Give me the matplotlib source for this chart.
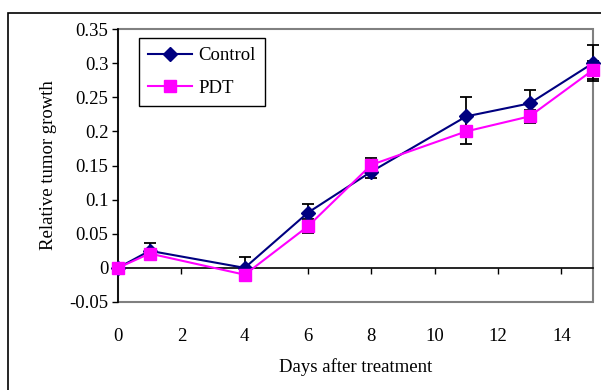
import matplotlib
matplotlib.use("Agg")
import matplotlib.pyplot as plt
from matplotlib.patches import Rectangle

days = [0, 1, 4, 6, 8, 11, 13, 15]
control = [0.0, 0.025, 0.0, 0.081, 0.141, 0.222, 0.241, 0.300]
control_err = [0.0, 0.011, 0.016, 0.013, 0.009, 0.029, 0.020, 0.026]
pdt = [0.0, 0.021, -0.010, 0.061, 0.151, 0.200, 0.222, 0.290]
pdt_err = [0.0, 0.0, 0.004, 0.010, 0.010, 0.019, 0.010, 0.013]
xticks = [0, 2, 4, 6, 8, 10, 12, 14]
yticks = [-0.05, 0, 0.05, 0.1, 0.15, 0.2, 0.25, 0.3, 0.35]
ytick_labels = ["-0.05", "0", "0.05", "0.1", "0.15", "0.2", "0.25", "0.3", "0.35"]

plt.rcParams['font.family'] = ['Liberation Serif', 'DejaVu Serif']
FS = 13.5

W, H = 601, 390
fig = plt.figure(figsize=(W / 100, H / 100), dpi=100)
ax = fig.add_axes([118 / W, 1 - 302 / H, (593 - 118) / W, (302 - 29) / H])

# outer border
fig.patches.append(Rectangle((8 / W, -0.1), 1.2, 1 - 13 / H + 0.1, transform=fig.transFigure,
                             fill=False, edgecolor='black', lw=1.2))

ekw = dict(fmt='none', ecolor='black', elinewidth=1.3, capsize=4, capthick=1.3,
           clip_on=False, zorder=2)
ax.errorbar(days, control, yerr=control_err, **ekw)
ax.errorbar(days, pdt, yerr=pdt_err, **ekw)
ax.plot(days, control, color='#000080', marker='D', markersize=7, lw=1.5,
        label='Control', clip_on=False, zorder=3)
ax.plot(days, pdt, color='#FF00FF', marker='s', markersize=8, lw=1.5,
        label='PDT', clip_on=False, zorder=3)

ax.set_xlim(0, 15)
ax.set_ylim(-0.05, 0.35)
ax.set_xticks(xticks)
ax.set_yticks(yticks)
ax.set_yticklabels(ytick_labels)

for s in ['top', 'right']:
    ax.spines[s].set_visible(False)
ax.spines['left'].set_color('black')
ax.spines['left'].set_linewidth(1.2)
ax.spines['bottom'].set_position(('data', 0))
ax.spines['bottom'].set_color('black')
ax.spines['bottom'].set_linewidth(1.2)
ax.add_patch(Rectangle((0, 0), 1, 1, transform=ax.transAxes, fill=False,
                       edgecolor='#808080', lw=1.5, clip_on=False, zorder=1))

ax.tick_params(axis='x', direction='out', length=4, width=1, pad=39, labelsize=FS)
ax.tick_params(axis='y', direction='out', length=4, width=1, pad=3, labelsize=FS)

ax.set_xlabel('Days after treatment', fontsize=FS, labelpad=10)
ax.set_ylabel('Relative tumor growth', fontsize=FS, labelpad=9)

leg = ax.legend(loc='upper left', bbox_to_anchor=(21 / 475, 1 - 9 / 273), fontsize=FS,
                frameon=True, fancybox=False, edgecolor='black', framealpha=1,
                borderpad=0.5, handlelength=2.3, handletextpad=0.35,
                labelspacing=0.8, borderaxespad=0)
leg.get_frame().set_linewidth(1.0)

fig.savefig('out.png', dpi=100)
